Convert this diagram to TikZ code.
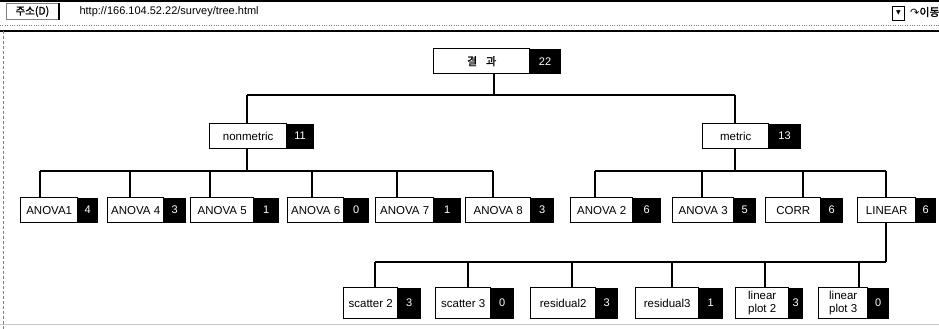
\documentclass[tikz,border=0pt]{standalone}
\usepackage{fontspec}
\setmainfont{Liberation Sans}
\newfontfamily\krfont{Noto Sans CJK KR}
\newfontfamily\krbold{Noto Sans CJK KR}[FakeBold=1.5]
\newfontfamily\symfont{DejaVu Sans}
\usetikzlibrary{positioning}
\tikzset{
    tree box/.style={
        draw=black,
        line width=1.4pt,
        fill=white,
        inner sep=0pt,
        anchor=north west,
        minimum height=25pt,
        font=\fontsize{11.5}{12.5}\selectfont
    },
    count box/.style={
        fill=black,
        text=white,
        inner sep=0pt,
        minimum height=25pt,
        font=\fontsize{11}{12}\selectfont
    },
    tall/.style={minimum height=31pt, align=center},
    link/.style={line width=1.6pt}
}

\begin{document}
\begin{tikzpicture}[x=1pt, y=-1pt, node distance=-1.5pt]
            \clip (0,0) rectangle (939,329);

            % Browser address bar
            \draw [line width=1.5pt] (0,1) -- (939,1);
            \node (addr) [
                draw=gray,
                line width=0.8pt,
                inner sep=0pt,
                anchor=north west,
                minimum width=52pt,
                minimum height=16pt,
                font=\krbold\fontsize{10.5}{11}\selectfont
            ] at (6,3) {주소(D)};
            \draw [line width=1.5pt] (addr.north east) -- (addr.south east);
            \node (url) [anchor=west, font=\fontsize{11}{12}\selectfont] at (76,12)
                {http://166.104.52.22/survey/tree.html};
            \node (drop) [
                draw,
                line width=0.8pt,
                inner sep=0pt,
                anchor=north west,
                minimum width=12pt,
                minimum height=14pt,
                font=\symfont\fontsize{6}{6}\selectfont
            ] at (892,6) {▼};
            \node (go) [anchor=west, inner sep=0pt, font=\fontsize{11}{12}\selectfont] at (910,12)
                {{\symfont ↷}{\krbold 이동}};
            \draw [gray, dotted] (0,25) -- (939,25);
            \draw [line width=1.2pt] (0,31) -- (939,31);
            \draw [gray, densely dashed] (3,31) -- (3,329);
            \draw [gray!45, line width=1pt] (0,324) -- (939,324);

            % Root
            \node (root) [tree box, minimum width=96pt, font=\krbold\fontsize{11}{12}\selectfont] at (433,48) {결\hspace{9pt}과};
            \node (rootn) [count box, minimum width=32pt, right=of root] {22};

            % Level 1
            \node (nonmetric) [tree box, minimum width=77pt] at (209,123) {nonmetric};
            \node (nonmetricn) [count box, minimum width=28pt, right=of nonmetric] {11};
            \node (metric) [tree box, minimum width=66pt] at (702,123) {metric};
            \node (metricn) [count box, minimum width=33pt, right=of metric] {13};

            % Level 2
            \node (anova1) [tree box, minimum width=57pt] at (20,197) {ANOVA1};
            \node (anova1n) [count box, minimum width=21pt, right=of anova1] {4};
            \node (anova4) [tree box, minimum width=56pt] at (107,197) {ANOVA 4};
            \node (anova4n) [count box, minimum width=23pt, right=of anova4] {3};
            \node (anova5) [tree box, minimum width=63pt] at (190,197) {ANOVA 5};
            \node (anova5n) [count box, minimum width=26pt, right=of anova5] {1};
            \node (anova6) [tree box, minimum width=56pt] at (287,197) {ANOVA 6};
            \node (anova6n) [count box, minimum width=26pt, right=of anova6] {0};
            \node (anova7) [tree box, minimum width=58pt] at (375,197) {ANOVA 7};
            \node (anova7n) [count box, minimum width=28pt, right=of anova7] {1};
            \node (anova8) [tree box, minimum width=65pt] at (465,197) {ANOVA 8};
            \node (anova8n) [count box, minimum width=24pt, right=of anova8] {3};
            \node (anova2) [tree box, minimum width=62pt] at (570,197) {ANOVA 2};
            \node (anova2n) [count box, minimum width=29pt, right=of anova2] {6};
            \node (anova3) [tree box, minimum width=61pt] at (672,197) {ANOVA 3};
            \node (anova3n) [count box, minimum width=23pt, right=of anova3] {5};
            \node (corr) [tree box, minimum width=55pt] at (765,197) {CORR};
            \node (corrn) [count box, minimum width=23pt, right=of corr] {6};
            \node (linear) [tree box, minimum width=58pt] at (857,197) {LINEAR};
            \node (linearn) [count box, minimum width=21pt, right=of linear] {6};

            % Level 3
            \node (scatter2) [tree box, tall, minimum width=54pt] at (343,287) {scatter 2};
            \node (scatter2n) [count box, tall, minimum width=24pt, right=of scatter2] {3};
            \node (scatter3) [tree box, tall, minimum width=55pt] at (435,287) {scatter 3};
            \node (scatter3n) [count box, tall, minimum width=24pt, right=of scatter3] {0};
            \node (residual2) [tree box, tall, minimum width=65pt] at (530,287) {residual2};
            \node (residual2n) [count box, tall, minimum width=23pt, right=of residual2] {3};
            \node (residual3) [tree box, tall, minimum width=63pt] at (635,287) {residual3};
            \node (residual3n) [count box, tall, minimum width=25pt, right=of residual3] {1};
            \node (plot2) [tree box, tall, minimum width=53pt] at (735,287) {linear\\plot 2};
            \node (plot2n) [count box, tall, minimum width=15pt, right=of plot2] {3};
            \node (plot3) [tree box, tall, minimum width=49pt] at (818,287) {linear\\plot 3};
            \node (plot3n) [count box, tall, minimum width=22pt, right=of plot3] {0};

            % Bus levels
            \coordinate (bus1) at (0,95);
            \coordinate (bus2) at (0,171);
            \coordinate (bus3) at (0,262);

            % Parent stems
            \draw [link] ([xshift=61pt]root.south west) -- ([xshift=61pt]root.south west |- bus1);
            \draw [link] ([xshift=38pt]nonmetric.south west) -- ([xshift=38pt]nonmetric.south west |- bus2);
            \draw [link] ([xshift=33pt]metric.south west) -- ([xshift=33pt]metric.south west |- bus2);
            \draw [link] ([xshift=29pt]linear.south west) -- ([xshift=29pt]linear.south west |- bus3);

            % Buses
            \draw [link] ([xshift=38pt]nonmetric.north west |- bus1) -- ([xshift=33pt]metric.north west |- bus1);
            \draw [link] ([xshift=20pt]anova1.north west |- bus2) -- ([xshift=28pt]anova8.north west |- bus2);
            \draw [link] ([xshift=25pt]anova2.north west |- bus2) -- ([xshift=29pt]linear.north west |- bus2);
            \draw [link] ([xshift=32pt]scatter2.north west |- bus3) -- ([xshift=29pt]linear.south west |- bus3);

            % Child stems
            \foreach \n/\d in {nonmetric/38, metric/33}
                \draw [link] ([xshift=\d pt]\n.north west) -- ([xshift=\d pt]\n.north west |- bus1);
            \foreach \n/\d in {anova1/20, anova4/23, anova5/20, anova6/25, anova7/22, anova8/28,
                    anova2/25, anova3/30, corr/38, linear/29}
                \draw [link] ([xshift=\d pt]\n.north west) -- ([xshift=\d pt]\n.north west |- bus2);
            \foreach \n/\d in {scatter2/32, scatter3/33, residual2/42, residual3/37, plot2/30, plot3/41}
                \draw [link] ([xshift=\d pt]\n.north west) -- ([xshift=\d pt]\n.north west |- bus3);
\end{tikzpicture}
\end{document}
